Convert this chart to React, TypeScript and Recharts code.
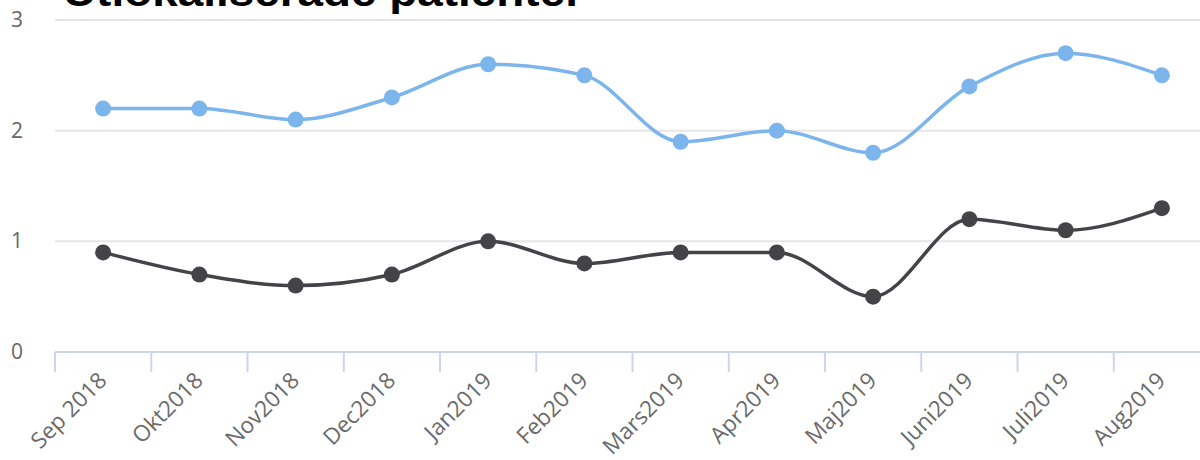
import React from "react";
import { LineChart, Line, XAxis, YAxis, CartesianGrid } from "recharts";

const categories = [
  "Sep 2018", "Okt2018", "Nov2018", "Dec2018", "Jan2019", "Feb2019",
  "Mars2019", "Apr2019", "Maj2019", "Juni2019", "Juli2019", "Aug2019",
];
const seriesBlue = [2.2, 2.2, 2.1, 2.3, 2.6, 2.5, 1.9, 2.0, 1.8, 2.4, 2.7, 2.5];
const seriesDark = [0.9, 0.7, 0.6, 0.7, 1.0, 0.8, 0.9, 0.9, 0.5, 1.2, 1.1, 1.3];
const yTicks = [0, 1, 2, 3];
const title = "Utlokaliserade patienter";

const data = categories.map((c, i) => ({ name: c, blue: seriesBlue[i], dark: seriesDark[i] }));

const FONT = "'Open Sans', 'DejaVu Sans', sans-serif";
const HALF_BAND = 48.1;

const XTick = (props: any) => {
  const { x, y, payload } = props;
  const tx = x + 5;
  const ty = y + 30;
  return (
    <g>
      <line x1={x - HALF_BAND} y1={y} x2={x - HALF_BAND} y2={y + 20} stroke="#ccd6eb" strokeWidth={2} />
      <text
        x={tx}
        y={ty}
        textAnchor="end"
        transform={`rotate(-45, ${tx}, ${ty})`}
        fontSize={22.5}
        fontFamily={FONT}
        fill="#6a6a6a"
      >
        {payload.value}
      </text>
    </g>
  );
};

const YTick = (props: any) => {
  const { x, y, payload } = props;
  return (
    <text x={x - 32} y={y + 7} textAnchor="end" fontSize={21} fontFamily={FONT} fill="#666666">
      {payload.value}
    </text>
  );
};

export default function App() {
  return (
    <div style={{ position: "absolute", left: 0, top: 0, width: 1200, height: 460, overflow: "hidden", background: "#fff" }}>
      <LineChart width={1210} height={460} data={data} margin={{ top: 20, right: 0, left: 0, bottom: 0 }}>
        <CartesianGrid vertical={false} stroke="#e6e6e6" strokeWidth={2} />
        <XAxis
          dataKey="name"
          scale="band"
          interval={0}
          height={108}
          tickSize={0}
          tickMargin={0}
          tickLine={false}
          axisLine={{ stroke: "#ccd6eb", strokeWidth: 2 }}
          tick={<XTick />}
        />
        <YAxis
          domain={[0, 3]}
          ticks={yTicks}
          width={55}
          axisLine={false}
          tickLine={false}
          tickSize={0}
          tickMargin={0}
          tick={<YTick />}
        />
        <Line
          type="monotone"
          dataKey="blue"
          stroke="#7cb5ec"
          strokeWidth={3.5}
          dot={{ r: 8, fill: "#7cb5ec", stroke: "#7cb5ec", strokeWidth: 0 }}
          isAnimationActive={false}
        />
        <Line
          type="monotone"
          dataKey="dark"
          stroke="#434348"
          strokeWidth={3.5}
          dot={{ r: 8, fill: "#434348", stroke: "#434348", strokeWidth: 0 }}
          isAnimationActive={false}
        />
      </LineChart>
      <svg width={1200} height={40} style={{ position: "absolute", left: 0, top: 0 }}>
        <text
          x={63}
          y={6}
          fontSize={40}
          fontWeight="bold"
          fontFamily="'Liberation Sans', Arial, sans-serif"
          fill="#000"
          textLength={520}
          lengthAdjust="spacingAndGlyphs"
        >
          {title}
        </text>
      </svg>
    </div>
  );
}
